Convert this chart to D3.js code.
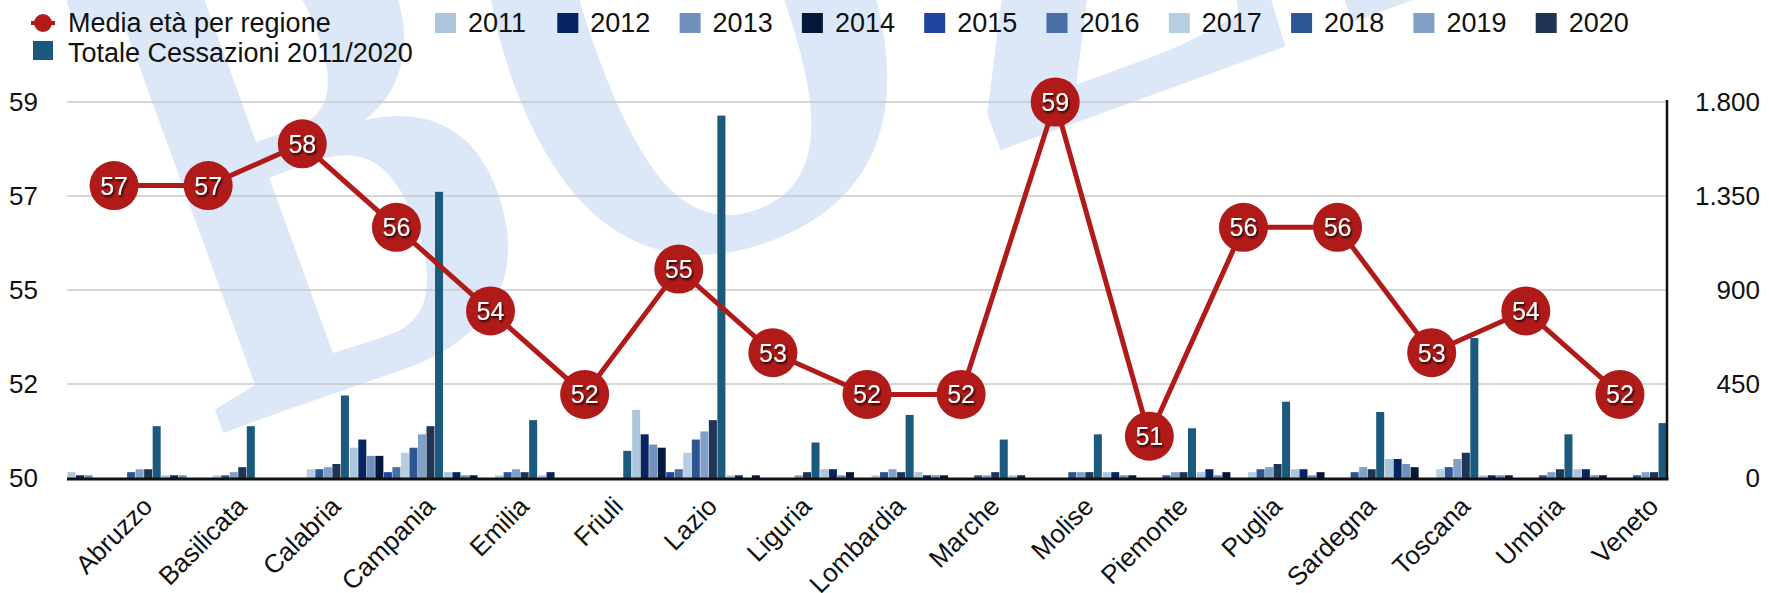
<!DOCTYPE html>
<html>
<head>
<meta charset="utf-8">
<script src="https://cdn.jsdelivr.net/npm/d3@7"></script>
<style>
  body { margin: 0; background: #fff; }
  svg { display: block; }
  text { font-family: "Liberation Sans", Arial, Helvetica, sans-serif; }
</style>
</head>
<body>
<svg id="chart" width="1769" height="593"></svg>
<script>
// ---- data ----
var regions = ["Abruzzo", "Basilicata", "Calabria", "Campania", "Emilia", "Friuli", "Lazio", "Liguria",
  "Lombardia", "Marche", "Molise", "Piemonte", "Puglia", "Sardegna", "Toscana", "Umbria", "Veneto"];
var mediaEta = [57, 57, 58, 56, 54, 52, 55, 53, 52, 52, 59, 51, 56, 56, 53, 54, 52];

var anni = ["2011", "2012", "2013", "2014", "2015", "2016", "2017", "2018", "2019", "2020"];
var c2011 = [28, 13, 0, 145, 28, 13, 326, 13, 42, 28, 13, 28, 28, 42, 91, 13, 42];
var c2012 = [13, 13, 0, 184, 28, 28, 209, 13, 42, 13, 13, 28, 42, 42, 91, 13, 42];
var c2013 = [13, 13, 0, 106, 13, 0, 160, 0, 13, 13, 0, 13, 13, 13, 67, 13, 13];
var c2014 = [0, 0, 0, 106, 13, 0, 145, 13, 28, 13, 0, 13, 28, 28, 52, 13, 13];
var c2015 = [0, 0, 0, 28, 0, 0, 28, 0, 0, 0, 0, 0, 0, 0, 0, 0, 0];
var c2016 = [0, 0, 0, 52, 0, 0, 42, 0, 0, 0, 0, 0, 0, 0, 0, 0, 0];
var c2017 = [0, 13, 42, 121, 13, 0, 121, 0, 13, 0, 0, 0, 28, 0, 42, 0, 0];
var c2018 = [28, 13, 42, 145, 28, 0, 184, 0, 28, 13, 28, 13, 42, 28, 52, 13, 13];
var c2019 = [42, 28, 52, 209, 42, 0, 223, 13, 42, 13, 28, 28, 52, 52, 91, 28, 28];
var c2020 = [42, 52, 67, 248, 28, 0, 277, 28, 28, 28, 28, 28, 67, 42, 121, 42, 28];
var totale = [248, 248, 395, 1370, 277, 130, 1735, 170, 302, 184, 209, 238, 365, 316, 670, 209, 263];

var ticksEta = [50, 52.25, 54.5, 56.75, 59];
var ticksCess = [0, 450, 900, 1350, 1800];

var labelTotale = "Totale Cessazioni 2011/2020";
var labelMedia = "Media età per regione";

// ---- setup ----
var series = anni.concat(["Totale"]);
var valori = {
  "2011": c2011, "2012": c2012, "2013": c2013, "2014": c2014, "2015": c2015,
  "2016": c2016, "2017": c2017, "2018": c2018, "2019": c2019, "2020": c2020, "Totale": totale
};
var colori = {
  "2011": "#aec6dc", "2012": "#06245f", "2013": "#7191bc", "2014": "#05183b", "2015": "#1d45a0",
  "2016": "#4a6da6", "2017": "#b8cde0", "2018": "#2d5591", "2019": "#81a0c6", "2020": "#203456",
  "Totale": "#1b5a7d"
};
var rosso = "#b01b19";

// note: "top" is a window property, so use other names
var mLeft = 67, mRight = 1667, mTop = 102, mBottom = 478;
var svg = d3.select("#chart");

var x = d3.scaleBand().domain(regions).range([mLeft, mRight]).padding(0);
var xs = d3.scaleBand().domain(series).range([0, x.bandwidth()]).paddingInner(0.06).paddingOuter(0.05);
var yEta = d3.scaleLinear().domain([50, 59]).range([mBottom, mTop]);
var yCess = d3.scaleLinear().domain([0, 1800]).range([mBottom, mTop]);

var itFmt = d3.formatLocale({decimal: ",", thousands: ".", grouping: [3], currency: ["€", ""]}).format(",");

var defs = svg.append("defs");
var f = defs.append("filter").attr("id", "ombra").attr("x", "-30%").attr("y", "-30%").attr("width", "160%").attr("height", "160%");
f.append("feDropShadow").attr("dx", 1.3).attr("dy", 1.8).attr("stdDeviation", 1)
  .attr("flood-color", "#000").attr("flood-opacity", 0.95);

// watermark
svg.append("text")
  .attr("transform", "translate(215,436) rotate(-20) scale(1.05,1.35)")
  .attr("fill", "#dce8f8")
  .style("font-family", "'Liberation Serif', 'DejaVu Serif', serif")
  .style("font-weight", "bold")
  .style("font-size", "520px")
  .style("letter-spacing", "10px")
  .text("BOZZA");

// gridlines
svg.append("g").selectAll("line")
  .data(ticksEta.slice(1))
  .enter().append("line")
  .attr("x1", mLeft).attr("x2", mRight)
  .attr("y1", function(d) { return yEta(d); })
  .attr("y2", function(d) { return yEta(d); })
  .attr("stroke", "#c9c9c9").attr("stroke-width", 1.5);

// bars
var gruppi = svg.append("g").selectAll("g")
  .data(regions)
  .enter().append("g")
  .attr("transform", function(d) { return "translate(" + x(d) + ",0)"; });

gruppi.selectAll("rect")
  .data(function(d, i) { return series.map(function(s) { return {s: s, v: valori[s][i]}; }); })
  .enter().append("rect")
  .attr("x", function(d) { return xs(d.s); })
  .attr("width", xs.bandwidth())
  .attr("y", function(d) { return yCess(d.v); })
  .attr("height", function(d) { return mBottom - yCess(d.v); })
  .attr("fill", function(d) { return colori[d.s]; });

// axis lines
svg.append("line").attr("x1", mLeft).attr("x2", mRight + 1.5).attr("y1", mBottom + 1).attr("y2", mBottom + 1)
  .attr("stroke", "#111").attr("stroke-width", 3);
svg.append("line").attr("x1", mRight).attr("x2", mRight).attr("y1", mTop - 2).attr("y2", mBottom + 1)
  .attr("stroke", "#111").attr("stroke-width", 2.5);

// left axis
var axL = svg.append("g").attr("transform", "translate(" + mLeft + ",0)")
  .call(d3.axisLeft(yEta).tickValues(ticksEta).tickSize(0).tickPadding(29)
    .tickFormat(function(d) { return Math.round(d); }));
axL.select(".domain").remove();
axL.selectAll("text").style("font-size", "26px").attr("fill", "#111")
  .style("font-family", "'Liberation Sans', Arial, sans-serif");

// right axis
var axR = svg.append("g").attr("transform", "translate(" + mRight + ",0)")
  .call(d3.axisRight(yCess).tickValues(ticksCess).tickSize(0).tickFormat(itFmt));
axR.select(".domain").remove();
axR.selectAll("text").attr("x", 93).attr("text-anchor", "end").style("font-size", "26px").attr("fill", "#111")
  .style("font-family", "'Liberation Sans', Arial, sans-serif");

// x labels
svg.append("g").selectAll("text")
  .data(regions)
  .enter().append("text")
  .attr("transform", function(d) { return "translate(" + (x(d) + x.bandwidth() / 2 + 40) + ",508) rotate(-45)"; })
  .attr("text-anchor", "end")
  .style("font-size", "26px")
  .attr("fill", "#111")
  .text(function(d) { return d; });

// line
var linea = d3.line()
  .x(function(d, i) { return x(regions[i]) + x.bandwidth() / 2; })
  .y(function(d) { return yEta(d); });

svg.append("path")
  .datum(mediaEta)
  .attr("d", linea)
  .attr("fill", "none")
  .attr("stroke", rosso)
  .attr("stroke-width", 5);

var punti = svg.append("g").selectAll("g")
  .data(mediaEta)
  .enter().append("g")
  .attr("transform", function(d, i) { return "translate(" + (x(regions[i]) + x.bandwidth() / 2) + "," + yEta(d) + ")"; });
punti.append("circle").attr("r", 24.5).attr("fill", rosso);
punti.append("text")
  .attr("text-anchor", "middle")
  .attr("dy", "0.36em")
  .attr("fill", "#fff")
  .attr("filter", "url(#ombra)")
  .style("font-size", "25px")
  .text(function(d) { return d; });

// legend
var leg = svg.append("g");
leg.append("line").attr("x1", 31).attr("x2", 55).attr("y1", 23).attr("y2", 23).attr("stroke", rosso).attr("stroke-width", 4);
leg.append("circle").attr("cx", 43).attr("cy", 23).attr("r", 9).attr("fill", rosso);
leg.append("text").attr("x", 68).attr("y", 32).style("font-size", "27px").attr("fill", "#111").text(labelMedia);
leg.append("rect").attr("x", 33).attr("y", 41).attr("width", 20).attr("height", 19).attr("fill", colori["Totale"]);
leg.append("text").attr("x", 68).attr("y", 62).style("font-size", "27px").attr("fill", "#111").text(labelTotale);

var legAnni = svg.append("g").selectAll("g")
  .data(anni)
  .enter().append("g")
  .attr("transform", function(d, i) { return "translate(" + (435 + i * 122.3) + ",0)"; });
legAnni.append("rect").attr("x", 0).attr("y", 13).attr("width", 21).attr("height", 20)
  .attr("fill", function(d) { return colori[d]; });
legAnni.append("text").attr("x", 33).attr("y", 32).style("font-size", "27px").attr("fill", "#111")
  .text(function(d) { return d; });
</script>
</body>
</html>
